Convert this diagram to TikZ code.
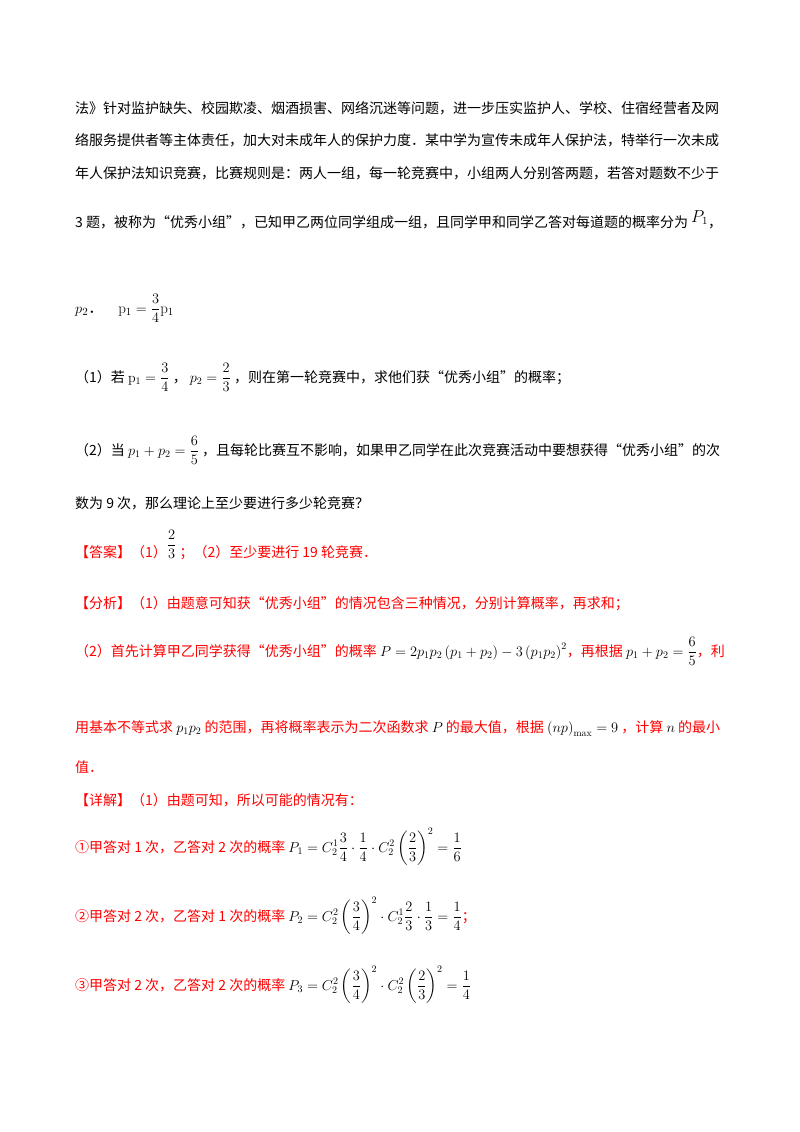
\documentclass[tikz,border=0pt]{standalone}
\usepackage{amsmath}
\usepackage{fontspec}
\newfontfamily\cjk{Noto Sans CJK SC}
\definecolor{rd}{RGB}{255,0,0}
\begin{document}
\begin{tikzpicture}[x=1pt,y=-1pt,
  ln/.style={anchor=base west,inner sep=0pt,font=\fontsize{14}{16}\cjk},
  rl/.style={ln,text=rd}]
\useasboundingbox (0,0) rectangle (800,1132);
\fill[white] (0,0) rectangle (800,1132);
\node[ln] (l1) at (75,113) {法》针对监护缺失、校园欺凌、烟酒损害、网络沉迷等问题，进一步压实监护人、学校、住宿经营者及网};
\node[ln] (l2) at (75,145) {络服务提供者等主体责任，加大对未成年人的保护力度．某中学为宣传未成年人保护法，特举行一次未成};
\node[ln] (l3) at (75,178) {年人保护法知识竞赛，比赛规则是：两人一组，每一轮竞赛中，小组两人分别答两题，若答对题数不少于};
\node[ln] (l4) at (75,227) {3 题，被称为“优秀小组”，已知甲乙两位同学组成一组，且同学甲和同学乙答对每道题的概率分为 \raisebox{5pt}{\fontsize{16}{18}\selectfont$P_1$}，};
\node[ln] (l5) at (75,313) {\fontsize{15}{17}\selectfont$p_2$\cjk．\quad $\mathrm{p}_1=\dfrac{3}{4}\mathrm{p}_1$};
\node[ln] (l6) at (75,382) {（1）若 $\mathrm{p}_1=\dfrac{3}{4}$ ， $p_2=\dfrac{2}{3}$ ，则在第一轮竞赛中，求他们获“优秀小组”的概率；};
\node[ln] (l7) at (75,455) {（2）当 $p_1+p_2=\dfrac{6}{5}$ ，且每轮比赛互不影响，如果甲乙同学在此次竞赛活动中要想获得“优秀小组”的次};
\node[ln] (l8) at (75,508) {数为 9 次，那么理论上至少要进行多少轮竞赛？};
\node[rl] (a1) at (75,557) {【答案】（1）\raisebox{8pt}{\textcolor{black}{$\dfrac{2}{3}$}} ；（2）至少要进行 19 轮竞赛．};
\node[rl] (a2) at (75,608) {【分析】（1）由题意可知获“优秀小组”的情况包含三种情况，分别计算概率，再求和；};
\node[rl] (a3) at (75,656) {（2）首先计算甲乙同学获得“优秀小组”的概率 \textcolor{black}{$P=2p_1p_2\left(p_1+p_2\right)-3\left(p_1p_2\right)^2$}，再根据 \textcolor{black}{$p_1+p_2=\dfrac{6}{5}$}，利};
\node[rl] (a4) at (75,732) {用基本不等式求 \textcolor{black}{$p_1p_2$} 的范围，再将概率表示为二次函数求 \textcolor{black}{$P$} 的最大值，根据 \textcolor{black}{$\left(np\right)_{\max}=9$} ，计算 \textcolor{black}{$n$} 的最小};
\node[rl] (a5) at (75,772) {值．};
\node[rl] (d1) at (75,805) {【详解】（1）由题可知，所以可能的情况有：};
\node[rl] (d2) at (75,852) {①甲答对 1 次，乙答对 2 次的概率 \textcolor{black}{$P_1=C_2^1\dfrac{3}{4}\cdot\dfrac{1}{4}\cdot C_2^2\left(\dfrac{2}{3}\right)^2=\dfrac{1}{6}$}};
\node[rl] (d3) at (75,921) {②甲答对 2 次，乙答对 1 次的概率 \textcolor{black}{$P_2=C_2^2\left(\dfrac{3}{4}\right)^2\cdot C_2^1\dfrac{2}{3}\cdot\dfrac{1}{3}=\dfrac{1}{4}$}；};
\node[rl] (d4) at (75,990) {③甲答对 2 次，乙答对 2 次的概率 \textcolor{black}{$P_3=C_2^2\left(\dfrac{3}{4}\right)^2\cdot C_2^2\left(\dfrac{2}{3}\right)^2=\dfrac{1}{4}$}};
\end{tikzpicture}
\end{document}
